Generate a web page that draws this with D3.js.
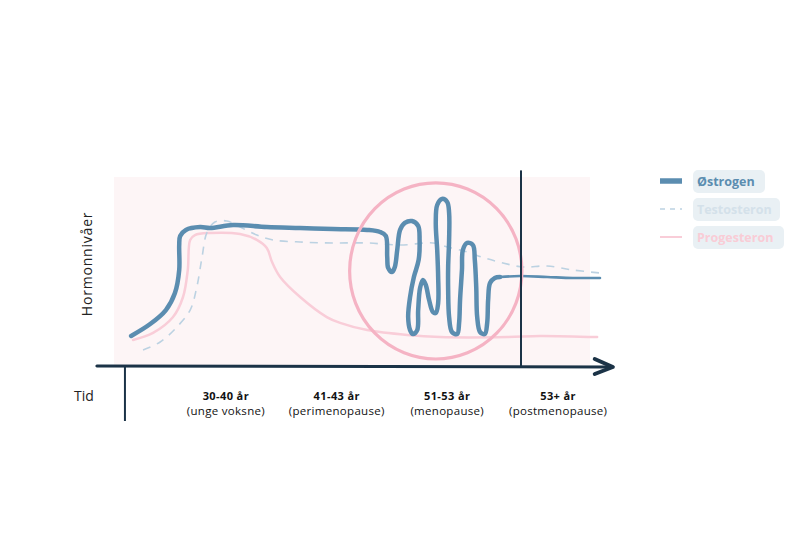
<!DOCTYPE html>
<html><head><meta charset="utf-8">
<script src="https://cdn.jsdelivr.net/npm/d3@7"></script>
<style>body{margin:0;background:#fff}svg{display:block}</style>
</head><body><svg id="c" width="800" height="550"></svg>
<script>
// ---- data ----
const categories = ["30-40 år","41-43 år","51-53 år","53+ år"];
const categorySub = ["(unge voksne)","(perimenopause)","(menopause)","(postmenopause)"];
const categoryX = [23.5, 46.8, 70.0, 93.3];
const seriesNames = ["Østrogen","Testosteron","Progesteron"];

const estrogenX = [3.6,7.6,10.9,12.8,13.7,13.7,13.9,15.1,18.1,20.2,25.0,32.1,39.1,46.0,53.2,55.9,57.1,57.4,57.6,58.4,59.0,59.5,60.1,61.1,62.6,63.9,64.2,64.0,63.0,62.2,61.8,62.2,62.8,63.7,63.9,64.3,64.9,65.5,66.2,67.0,67.6,68.1,68.1,67.9,67.6,67.9,68.9,70.0,70.4,70.4,70.2,70.2,70.4,71.0,72.1,72.5,72.7,73.1,73.3,74.2,75.4,75.8,76.1,76.3,76.9,77.9,78.4,78.6,79.0,80.0,81.1];
const estrogenY = [15.9,22.2,29.6,38.6,50.8,64.0,68.8,72.0,73.5,73.0,74.6,73.5,73.0,72.5,72.0,70.9,68.8,57.7,51.9,49.7,52.4,61.4,72.0,75.7,76.7,74.1,66.7,56.1,47.1,36.5,25.9,19.0,16.9,19.0,29.6,41.3,45.5,42.9,34.9,28.6,28.0,33.3,47.1,61.4,75.7,85.2,88.4,86.8,81.0,66.7,52.4,40.2,25.9,18.0,16.9,22.8,34.9,50.8,61.4,65.1,64.0,56.1,41.8,25.9,18.0,16.9,22.8,34.9,43.9,46.6,47.1];
const estrogenTailX = [81.1,85.3,91.0,96.4,102.1];
const estrogenTailY = [47.1,47.6,47.1,46.6,46.6];

const testosteronX = [6.1,9.7,13.2,16.0,17.4,18.5,19.5,21.2,23.7,26.5,30.0,33.4,39.1,46.0,53.2,60.1,67.0,70.0,74.2,77.9,81.7,85.9,91.0,96.4,102.1];
const testosteronY = [8.5,12.7,20.6,29.6,41.8,57.7,70.4,76.2,76.7,73.5,69.3,66.7,65.6,65.1,65.1,64.0,65.1,63.0,60.3,57.1,54.5,52.4,52.9,50.8,49.2];

const progesteronX = [4.0,8.2,12.4,14.5,15.5,16.0,17.0,20.2,26.5,30.0,32.1,33.2,34.9,39.1,44.7,47.5,53.2,61.6,68.5,82.6,89.5,101.5];
const progesteronY = [13.8,17.5,25.9,36.5,50.8,66.7,69.3,70.4,69.8,66.7,62.4,55.0,47.1,36.5,25.9,22.8,19.0,16.4,15.3,15.3,15.9,15.3];

const menopauseLineX = 85.5;
const circleCenter = [67.6, 50.3];
const circleRadius = [18.1, 46.6];

// ---- drawing ----
const svg = d3.select("#c");
const x = d3.scaleLinear().domain([0,100]).range([114,590]);
const y = d3.scaleLinear().domain([0,100]).range([366,177]);

const navy = "#1b3347", blue = "#5b8db0", lightBlue = "#bcd2e2", pink = "#f9cdd8", circlePink = "#f5b3c4";

svg.append("rect").attr("x",x(0)).attr("y",y(100)).attr("width",x(100)-x(0)).attr("height",y(0)-y(100)).attr("fill","#fdf5f6");

const line = d3.line().x(d=>x(d[0])).y(d=>y(d[1])).curve(d3.curveCatmullRom.alpha(0.5));
const zip = (a,b)=>a.map((v,i)=>[v,b[i]]);

// progesterone
svg.append("path").attr("d",line(zip(progesteronX,progesteronY))).attr("fill","none")
  .attr("stroke",pink).attr("stroke-width",2.5).attr("stroke-linecap","round");
// testosterone
svg.append("path").attr("d",line(zip(testosteronX,testosteronY))).attr("fill","none")
  .attr("stroke",lightBlue).attr("stroke-width",1.6).attr("stroke-dasharray","8,7");
// estrogen
svg.append("path").attr("d",line(zip(estrogenX,estrogenY))).attr("fill","none")
  .attr("stroke",blue).attr("stroke-width",4.5).attr("stroke-linecap","round").attr("stroke-linejoin","round");
svg.append("path").attr("d",line(zip(estrogenTailX,estrogenTailY))).attr("fill","none")
  .attr("stroke",blue).attr("stroke-width",2.6).attr("stroke-linecap","round");

// circle
svg.append("ellipse").attr("cx",x(circleCenter[0])).attr("cy",y(circleCenter[1]))
  .attr("rx",x(circleRadius[0])-x(0)).attr("ry",y(0)-y(circleRadius[1]))
  .attr("fill","none").attr("stroke",circlePink).attr("stroke-width",3.2);

// menopause vertical line
svg.append("line").attr("x1",x(menopauseLineX)).attr("x2",x(menopauseLineX))
  .attr("y1",y(103.5)).attr("y2",y(0)).attr("stroke",navy).attr("stroke-width",2);

// axes
svg.append("line").attr("x1",x(-3.6)).attr("x2",x(104.2)).attr("y1",y(0)).attr("y2",y(0)+1)
  .attr("stroke",navy).attr("stroke-width",3).attr("stroke-linecap","round");
svg.append("path").attr("d",`M${x(101.0)},${y(0)-7} L${x(104.8)},${y(0)+1} L${x(101.0)},${y(0)+8}`)
  .attr("fill","none").attr("stroke",navy).attr("stroke-width",4).attr("stroke-linecap","round").attr("stroke-linejoin","round");
svg.append("line").attr("x1",x(2.3)).attr("x2",x(2.3)).attr("y1",y(0)).attr("y2",y(0)+55)
  .attr("stroke",navy).attr("stroke-width",2);

// labels
svg.append("text").attr("transform",`translate(${92},${y(54)}) rotate(-90)`).attr("text-anchor","middle")
  .attr("font-family","Open Sans, sans-serif").attr("font-size",14).attr("letter-spacing",0.8).attr("fill","#222").text("Hormonnivåer");
svg.append("text").attr("x",84).attr("y",401).attr("text-anchor","middle")
  .attr("font-family","Open Sans, sans-serif").attr("font-size",14).attr("fill","#222").text("Tid");

const cat = svg.append("g").attr("font-family","Open Sans, sans-serif").attr("fill","#111").attr("text-anchor","middle");
categories.forEach((c,i)=>{
  cat.append("text").attr("x",x(categoryX[i])).attr("y",400).attr("font-size",11).attr("letter-spacing",0.4).attr("font-weight","bold").text(c);
  cat.append("text").attr("x",x(categoryX[i])).attr("y",415).attr("font-size",11.5).attr("letter-spacing",0.3).text(categorySub[i]);
});

// legend
const legend = [
  {stroke:blue, w:5.5, dash:null, text:"#5b8db0", bw:72},
  {stroke:lightBlue, w:1.6, dash:"5,5", text:"#d4e1ea", bw:87},
  {stroke:pink, w:2, dash:null, text:"#f9ccd6", bw:91}
];
const lg = svg.append("g");
seriesNames.forEach((n,i)=>{
  const ly = 181 + i*28;
  const L = legend[i];
  lg.append("line").attr("x1",660).attr("x2",682).attr("y1",ly).attr("y2",ly)
    .attr("stroke",L.stroke).attr("stroke-width",L.w).attr("stroke-dasharray",L.dash);
  lg.append("rect").attr("x",693).attr("y",ly-11).attr("width",L.bw).attr("height",23).attr("rx",5).attr("fill","#e9f0f4");
  lg.append("text").attr("x",697).attr("y",ly+4.5).attr("font-family","Open Sans, sans-serif").attr("font-weight","bold")
    .attr("font-size",12.5).attr("fill",L.text).text(n);
});
</script></body></html>
